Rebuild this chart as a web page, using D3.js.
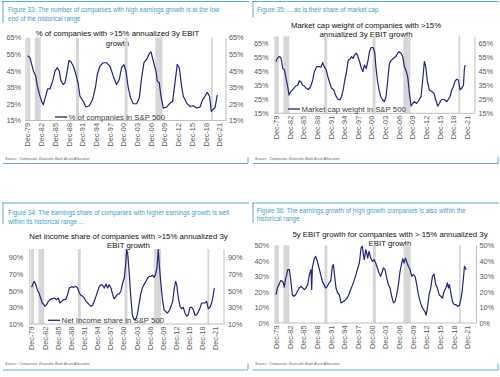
<!DOCTYPE html>
<html lang="en">
<head>
<meta charset="UTF-8">
<title>High earnings growth companies</title>
<script src="https://d3js.org/d3.v7.min.js"></script>
<style>
  body { margin: 0; background: #fff; }
  svg { display: block; font-family: "Liberation Sans", Arial, sans-serif; }
  .fig-title { fill: #3d9fc7; font-size: 6.3px; }
  .chart-title { fill: #111; font-size: 7.8px; }
  .axis text { fill: #595959; font-size: 7.3px; font-family: "Liberation Sans", Arial, sans-serif; }
  .axis path, .axis line { stroke: #bfbfbf; }
  .legend { font-size: 7.8px; fill: #404040; }
  .source { font-size: 3.6px; fill: #666; font-style: italic; }
  .frame { stroke: #5ab0cc; stroke-width: 1; }
</style>
</head>
<body>
<svg width="500" height="377"></svg>
<script>
// x axis labels (every 3 years, December)
const xTickYears = [1979.92, 1982.92, 1985.92, 1988.92, 1991.92, 1994.92, 1997.92, 2000.92,
                    2003.92, 2006.92, 2009.92, 2012.92, 2015.92, 2018.92, 2021.92];
const xTickLabels = ["Dec-79", "Dec-82", "Dec-85", "Dec-88", "Dec-91", "Dec-94", "Dec-97", "Dec-00",
                     "Dec-03", "Dec-06", "Dec-09", "Dec-12", "Dec-15", "Dec-18", "Dec-21"];

// recession shading [start, end] in years
const recessions = [[1979.85, 1980.55], [1981.55, 1982.85], [1990.55, 1991.2],
                    [2001.2, 2001.85], [2007.95, 2009.5], [2020.1, 2020.45]];

// Figure 33: % of companies with >15% annualized 3y EBIT growth
const pctCompanies = [[1979.97,54],[1980.48,53],[1980.85,49],[1981.21,45],[1981.72,42],[1982.09,36],[1982.53,31],[1983.04,26.5],[1983.4,24.5],[1983.91,29.5],[1984.35,34],[1984.86,34],[1985.45,38.7],[1985.96,44.8],[1986.47,46.8],[1986.9,44.8],[1987.27,38.7],[1987.78,36.7],[1988.15,37.7],[1988.51,42.7],[1989.02,51.2],[1989.46,50.2],[1989.97,47.8],[1990.56,42.7],[1991.07,36.7],[1991.43,29.6],[1992.16,26.5],[1992.74,23.1],[1993.47,23.9],[1994.2,27.6],[1994.86,35.6],[1995.22,42.7],[1995.8,47.8],[1996.53,49.8],[1997.26,49.8],[1997.99,47.8],[1998.72,41.7],[1999.45,36.7],[2000.04,39.7],[2000.55,46.8],[2001.06,48.6],[2001.5,44.8],[2002.01,34.6],[2002.52,28.6],[2003.11,25.1],[2003.84,25.1],[2004.42,28.6],[2004.93,40.7],[2005.44,49.8],[2006.03,51.8],[2006.54,54.9],[2006.98,56.3],[2007.49,50.8],[2008.07,44.8],[2008.36,38.7],[2008.8,37.7],[2009.17,29.6],[2009.68,22.5],[2010.41,23.1],[2011.14,25.5],[2011.72,26.5],[2012.23,37.7],[2012.74,48.8],[2013.18,46.8],[2013.69,35.6],[2014.06,29.6],[2014.79,25.5],[2015.52,23.5],[2016.25,23.9],[2016.98,22.5],[2017.71,23.1],[2018.3,27.6],[2018.81,29.6],[2019.32,32],[2019.8,29.6],[2020.2,20.5],[2020.63,21.9],[2020.99,22.5],[2021.5,30.5]];

// Figure 35: market cap weight
const mktCapWeight = [[1979.93,51.9],[1980.22,54.3],[1980.59,55.5],[1980.96,55],[1981.18,52],[1981.4,47],[1981.77,46],[1982.13,40],[1982.5,34],[1982.79,28],[1983.16,30.5],[1983.52,31.7],[1983.89,33],[1984.26,34.5],[1984.7,35],[1985.07,38.3],[1985.43,37.6],[1985.8,35],[1986.17,34.5],[1986.53,33],[1987.05,32],[1987.56,34],[1988.0,38.8],[1988.37,44.8],[1988.89,48.3],[1989.4,48.3],[1989.84,47.9],[1990.21,51.2],[1990.5,48.3],[1990.97,46],[1991.34,41.2],[1991.78,36.4],[1992.14,33],[1992.66,31.7],[1993.03,28],[1993.54,25],[1993.98,24.5],[1994.35,27],[1994.72,31.7],[1995.08,38.8],[1995.45,44.8],[1995.82,53],[1996.19,53.6],[1996.55,55.5],[1996.92,54.3],[1997.21,56.7],[1997.65,57.9],[1997.95,55.5],[1998.31,52],[1998.75,47],[1999.05,44.8],[1999.41,49.5],[1999.78,47],[2000.15,52],[2000.51,59],[2000.88,62],[2001.32,62],[2001.69,58],[2001.88,49.5],[2002.25,38.8],[2002.62,31.7],[2002.98,27],[2003.42,24.5],[2003.79,23.3],[2004.16,27],[2004.53,38.8],[2004.9,50.7],[2005.26,52.6],[2005.78,54.3],[2006.29,55.5],[2006.73,57.9],[2007.02,59],[2007.46,57.9],[2007.83,55.5],[2008.2,48.3],[2008.56,45.5],[2008.93,41.2],[2009.3,29.3],[2009.67,20.2],[2010.03,22],[2010.4,23.3],[2010.91,22],[2011.43,24.5],[2011.87,27],[2012.23,38.8],[2012.6,52],[2012.9,48.3],[2013.26,37.6],[2013.7,31.7],[2014.22,30.5],[2014.73,29.3],[2015.1,24.5],[2015.54,20.2],[2015.9,22],[2016.27,24.5],[2016.78,25],[2017.15,24.5],[2017.52,23.3],[2017.88,25],[2018.25,27],[2018.62,31.7],[2018.99,34],[2019.35,38],[2019.72,39.3],[2020.09,38.8],[2020.46,31.7],[2020.83,33],[2021.2,35],[2021.42,47],[2021.57,49.5]];

// Figure 34: net income share
const netIncomeShare = [[1980.0,54],[1980.38,59.2],[1980.6,61.2],[1980.91,58],[1981.29,51.2],[1981.67,47.2],[1982.05,41.2],[1982.43,35.2],[1982.81,33.2],[1983.04,31.2],[1983.42,33.2],[1983.8,37.2],[1984.18,39.2],[1984.71,40.4],[1985.17,41.2],[1985.7,39.2],[1986.08,41.2],[1986.46,35.2],[1986.84,37.2],[1987.22,39.2],[1987.75,39.2],[1988.21,45.2],[1988.59,53.2],[1989.12,54.8],[1989.65,54],[1990.11,55.2],[1990.49,53.2],[1990.87,47.2],[1991.25,44.4],[1991.63,43.2],[1992.01,41.2],[1992.39,37.2],[1992.77,35.2],[1993.15,33.2],[1993.53,31.2],[1993.91,32.4],[1994.29,37.2],[1994.67,43.2],[1995.05,49.2],[1995.43,55.2],[1995.81,57.2],[1996.19,56.4],[1996.57,53.2],[1996.95,58],[1997.33,53.2],[1997.71,57.2],[1998.09,53.2],[1998.48,45.2],[1998.86,40.4],[1999.24,43.2],[1999.62,46],[2000.0,46],[2000.38,50],[2000.76,59.2],[2001.14,65.2],[2001.44,81.2],[2001.67,99.2],[2001.9,95],[2002.2,75.2],[2002.58,45.2],[2002.96,21.2],[2003.34,15.2],[2003.72,15.2],[2004.1,21.2],[2004.48,33.2],[2004.86,45.2],[2005.24,53.2],[2005.62,57.2],[2006.08,61.2],[2006.46,65.2],[2006.84,67.2],[2007.22,67.2],[2007.6,68.4],[2007.98,66],[2008.28,70],[2008.59,77.2],[2008.89,99.2],[2009.12,81.2],[2009.43,61.2],[2009.81,41.2],[2010.19,27.2],[2010.57,25.2],[2010.95,23.2],[2011.41,26],[2011.79,31.2],[2012.17,37.2],[2012.55,53.2],[2012.86,61.2],[2013.09,57.2],[2013.47,41.2],[2013.85,31.2],[2014.23,28.4],[2014.61,30],[2014.99,23.2],[2015.37,19.2],[2015.74,21.2],[2016.12,30],[2016.5,30],[2016.88,27.2],[2017.26,20.4],[2017.64,21.2],[2018.02,24.4],[2018.4,29.2],[2018.78,35.2],[2019.16,35.2],[2019.54,35.2],[2019.92,37.2],[2020.3,28.4],[2020.68,30],[2021.06,35.2],[2021.45,45.2],[2021.67,53.2]];

// Figure 36: 5y EBIT growth
const ebitGrowth5y = [[1979.93,18.2],[1980.22,22.5],[1980.59,24.7],[1980.95,27.3],[1981.32,26.8],[1981.54,25.8],[1981.76,23],[1981.98,27.9],[1982.27,31.1],[1982.5,34.3],[1982.86,34.3],[1983.15,27.9],[1983.51,18.2],[1983.88,17.2],[1984.25,18.2],[1984.61,20.4],[1985.05,22.5],[1985.42,23.6],[1985.79,22.5],[1986.15,21.5],[1986.52,22.5],[1986.88,24.7],[1987.25,31.1],[1987.61,34.3],[1987.76,21.5],[1987.9,35.4],[1988.27,40.8],[1988.63,42.9],[1989.0,39.7],[1989.37,35.4],[1989.74,31.1],[1990.1,26.8],[1990.47,24.7],[1990.83,22.5],[1991.2,23.6],[1991.57,25.8],[1991.93,26.8],[1992.3,36.5],[1992.52,37.6],[1992.81,30],[1993.1,22.5],[1993.47,19.3],[1993.83,18.2],[1994.2,12.9],[1994.71,13.9],[1995.23,15],[1995.59,16.1],[1995.96,18.7],[1996.33,21.5],[1996.77,24.7],[1997.13,27.9],[1997.5,31.1],[1997.87,35.4],[1998.23,38.6],[1998.6,48.3],[1998.89,49.4],[1999.11,44],[1999.33,40.8],[1999.62,47.2],[1999.84,45.1],[2000.06,41.8],[2000.36,46.1],[2000.72,41.8],[2001.09,39.7],[2001.45,40.8],[2001.82,38.6],[2002.19,35.4],[2002.55,32.2],[2002.92,30],[2003.29,33.3],[2003.51,35.4],[2003.87,34.3],[2004.24,29],[2004.61,24.7],[2004.97,22.5],[2005.34,17.2],[2005.71,12.9],[2006.07,13.9],[2006.44,18.2],[2006.81,24.7],[2007.17,33.3],[2007.54,38.6],[2007.76,41.4],[2008.05,38.6],[2008.35,41.8],[2008.64,39.3],[2009.0,36.5],[2009.37,34.3],[2009.74,30],[2010.1,31.1],[2010.47,30],[2010.84,24.7],[2011.2,18.2],[2011.57,13.9],[2011.94,10.7],[2012.3,8.6],[2012.67,7.1],[2012.89,5],[2013.18,9.7],[2013.55,18.2],[2013.91,22.5],[2014.28,30],[2014.65,31.5],[2015.01,24.7],[2015.38,22.5],[2015.75,18.2],[2016.11,17.2],[2016.48,16.1],[2016.85,20.4],[2017.22,22.5],[2017.58,25.8],[2017.8,22.5],[2018.02,24.7],[2018.39,18.2],[2018.76,12.9],[2019.12,11.8],[2019.49,11.8],[2019.85,10.7],[2020.22,11.4],[2020.51,15],[2020.81,20.4],[2021.1,29],[2021.32,36.5],[2021.54,35.4],[2021.69,34.3]];

const yTicksA = [15, 25, 35, 45, 55, 65];
const yTicksB = [10, 30, 50, 70, 90];
const yTicksC = [0, 10, 20, 30, 40, 50];

const sourceText = "Source : Compustat, Deutsche Bank Asset Allocation";
const lineColor = "#23237d";

const panels = [
  {
    fig: ["Figure 33: The number of companies with high earnings growth is at the low", "end of the historical range"],
    title: ["% of companies with >15% annualized 3y EBIT", "growth"],
    legend: "% of companies in S&P 500",
    data: pctCompanies, yTicks: yTicksA, yDomain: [15, 65],
    frame: {l: 3, t: 1.5, r: 248, b: 163.5, bar: 21},
    figX: 8, figY: [10, 19],
    titleX: 117.5, titleY: [33, 43],
    plot: {axL: 25.5, axR: 225.5, x0: 27.4, x1: 219.2, yB: 120.5, yT: 37.5, padL: 4.5, padR: 3.5},
    leg: {x: 55, y: 117}, srcX: 5, srcY: 160
  },
  {
    fig: ["Figure 35: ... as is their share of market cap"],
    title: ["Market cap weight of companies with >15%", "annualized 3y EBIT growth"],
    legend: "Market cap weight in S&P 500",
    data: mktCapWeight, yTicks: yTicksA, yDomain: [15, 70],
    frame: {l: 253, t: 1.5, r: 498, b: 163.5, bar: 16},
    figX: 257, figY: [10],
    titleX: 366, titleY: [25, 34.3],
    plot: {axL: 274.5, axR: 474.5, x0: 276, x1: 466.7, yB: 113.3, yT: 36.3, padL: 6, padR: 4},
    leg: {x: 288, y: 109}, srcX: 255, srcY: 160
  },
  {
    fig: ["Figure 34: The earnings share of companies with higher earnings growth is well", "within its historical range ..."],
    title: ["Net income share of companies with >15% annualized 3y", "EBIT growth"],
    legend: "Net Income share in S&P 500",
    data: netIncomeShare, yTicks: yTicksB, yDomain: [10, 100],
    frame: {l: 3, t: 203, r: 248, b: 370, bar: 21},
    figX: 8.3, figY: [213, 221.3],
    titleX: 128.5, titleY: [236.3, 245.3],
    plot: {axL: 29.3, axR: 223.5, x0: 31.3, x1: 215.4, yB: 324, yT: 249, padL: 6, padR: 4.5},
    leg: {x: 48, y: 320.3}, srcX: 5, srcY: 365
  },
  {
    fig: ["Figure 36: The earnings growth of high growth companies is also within the", "historical range"],
    title: ["5y EBIT growth for companies with > 15% annualized 3y", "EBIT growth"],
    legend: null,
    data: ebitGrowth5y, yTicks: yTicksC, yDomain: [0, 50],
    frame: {l: 253, t: 203, r: 498, b: 370, bar: 20},
    figX: 256.7, figY: [210.7, 218.7],
    titleX: 390, titleY: [234.7, 243],
    plot: {axL: 274.5, axR: 476, x0: 276, x1: 467.2, yB: 323, yT: 245.3, padL: 5.5, padR: 3.5},
    leg: null, srcX: 255, srcY: 365
  }
];

const svg = d3.select("svg");

panels.forEach(function(p, i) {
  var g = svg.append("g");
  var f = p.frame, q = p.plot;

  // frame
  g.append("line").attr("class", "frame").attr("x1", f.l - 1).attr("x2", f.r + 1).attr("y1", f.t).attr("y2", f.t);
  g.append("line").attr("class", "frame").attr("x1", f.l).attr("x2", f.l).attr("y1", f.t).attr("y2", f.t + f.bar);
  g.append("line").attr("class", "frame").attr("x1", f.l).attr("x2", f.r).attr("y1", f.b).attr("y2", f.b);
  g.append("line").attr("class", "frame").attr("x1", f.r).attr("x2", f.r).attr("y1", f.b - 6.5).attr("y2", f.b);

  // figure title
  p.fig.forEach(function(t, k) {
    g.append("text").attr("class", "fig-title")
      .attr("x", p.figX).attr("y", p.figY[k]).attr("dy", "0.35em").text(t);
  });

  // chart title
  p.title.forEach(function(t, k) {
    g.append("text").attr("class", "chart-title").attr("text-anchor", "middle")
      .attr("x", p.titleX).attr("y", p.titleY[k]).attr("dy", "0.35em").text(t);
  });

  var x = d3.scaleLinear().domain([xTickYears[0], xTickYears[xTickYears.length - 1]]).range([q.x0, q.x1]);
  var y = d3.scaleLinear().domain(p.yDomain).range([q.yB, q.yT]);

  // recession bars
  g.selectAll("rect.rec").data(recessions).enter().append("rect")
    .attr("class", "rec")
    .attr("x", d => x(d[0]))
    .attr("width", d => Math.max(1.8, x(d[1]) - x(d[0])))
    .attr("y", q.yT).attr("height", q.yB - q.yT)
    .attr("fill", "#d6d6d6");

  // axes
  g.append("g").attr("class", "axis").attr("transform", "translate(" + q.axL + ",0)")
    .call(d3.axisLeft(y).tickValues(p.yTicks).tickSize(0).tickSizeOuter(0).tickPadding(q.padL).tickFormat(d => d + "%"));
  g.append("g").attr("class", "axis").attr("transform", "translate(" + q.axR + ",0)")
    .call(d3.axisRight(y).tickValues(p.yTicks).tickSize(0).tickSizeOuter(0).tickPadding(q.padR).tickFormat(d => d + "%"));

  var xa = g.append("g").attr("class", "axis").attr("transform", "translate(0," + q.yB + ")")
    .call(d3.axisBottom(x).tickValues(xTickYears).tickSize(0).tickFormat((d, k) => xTickLabels[k]));
  xa.select(".domain").remove();
  xa.selectAll("text")
    .attr("y", 0).attr("x", -2.5).attr("dy", "0.35em")
    .attr("transform", "rotate(-90)")
    .style("text-anchor", "end");
  g.append("line").attr("x1", q.axL).attr("x2", q.axR).attr("y1", q.yB).attr("y2", q.yB)
    .attr("stroke", "#bfbfbf");

  // legend
  if (p.legend) {
    g.append("line").attr("x1", p.leg.x).attr("x2", p.leg.x + 12).attr("y1", p.leg.y).attr("y2", p.leg.y)
      .attr("stroke", lineColor).attr("stroke-width", 1.3);
    g.append("text").attr("class", "legend").attr("x", p.leg.x + 13.5).attr("y", p.leg.y)
      .attr("dy", "0.35em").text(p.legend);
  }

  // line
  g.append("clipPath").attr("id", "clip" + i).append("rect")
    .attr("x", q.axL).attr("y", q.yT).attr("width", q.axR - q.axL).attr("height", q.yB - q.yT);
  g.append("path").datum(p.data)
    .attr("clip-path", "url(#clip" + i + ")")
    .attr("fill", "none").attr("stroke", lineColor).attr("stroke-width", 1.2)
    .attr("stroke-linejoin", "round")
    .attr("d", d3.line().x(d => x(d[0])).y(d => y(d[1])));

  // source
  g.append("text").attr("class", "source").attr("x", p.srcX).attr("y", p.srcY).text(sourceText);
});
</script>
</body>
</html>
